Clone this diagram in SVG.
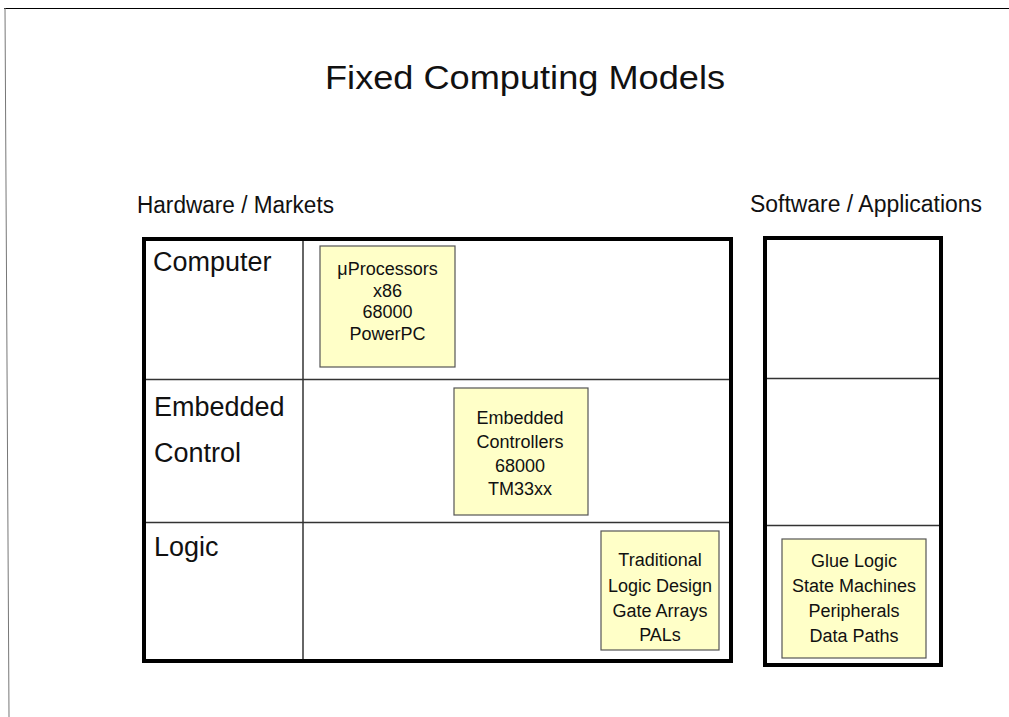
<svg xmlns="http://www.w3.org/2000/svg" width="1009" height="717" viewBox="0 0 1009 717">
<style>
text{font-family:"Liberation Sans",Arial,sans-serif;fill:#111}
.title{font-size:34px}
.head{font-size:23px}
.row{font-size:27px}
.box{fill:#FFFFC8;stroke:#555;stroke-width:1.2}
.bt{font-size:18px;text-anchor:middle}
.thick{fill:none;stroke:#000;stroke-width:4}
.thin{stroke:#333;stroke-width:1.5}
</style>
<rect width="1009" height="717" fill="#fff"/>
<g id="frame">
<line x1="4" y1="8.5" x2="1009" y2="8.5" stroke="#000" stroke-width="1.2"/>
<line x1="5" y1="8" x2="9" y2="717" stroke="#777" stroke-width="1"/>
</g>
<text id="title" class="title" x="525" y="89" text-anchor="middle" textLength="400" lengthAdjust="spacingAndGlyphs">Fixed Computing Models</text>
<text id="hw-label" class="head" x="137" y="213" textLength="197" lengthAdjust="spacingAndGlyphs">Hardware / Markets</text>
<text id="sw-label" class="head" x="750" y="212" textLength="232" lengthAdjust="spacingAndGlyphs">Software / Applications</text>
<g id="hw-table">
<rect class="thick" x="144" y="239" width="587" height="422"/>
<line class="thin" x1="303" y1="241" x2="303" y2="659"/>
<line class="thin" x1="146" y1="379.5" x2="729" y2="379.5"/>
<line class="thin" x1="146" y1="522.5" x2="729" y2="522.5"/>
<text class="row" x="153" y="271">Computer</text>
<text class="row" x="154" y="416">Embedded</text>
<text class="row" x="154" y="462">Control</text>
<text class="row" x="154" y="556">Logic</text>
</g>
<g id="sw-table">
<rect class="thick" x="765" y="238" width="176" height="427"/>
<line class="thin" x1="767" y1="378.5" x2="939" y2="378.5"/>
<line class="thin" x1="767" y1="525.5" x2="939" y2="525.5"/>
</g>
<g id="node-uprocessors">
<rect class="box" x="320" y="246" width="135" height="121"/>
<text class="bt" x="387.5" y="275">μProcessors</text>
<text class="bt" x="387.5" y="297">x86</text>
<text class="bt" x="387.5" y="318">68000</text>
<text class="bt" x="387.5" y="340">PowerPC</text>
</g>
<g id="node-embedded">
<rect class="box" x="454" y="388" width="134" height="127"/>
<text class="bt" x="520" y="424">Embedded</text>
<text class="bt" x="520" y="448">Controllers</text>
<text class="bt" x="520" y="472">68000</text>
<text class="bt" x="520" y="495">TM33xx</text>
</g>
<g id="node-traditional">
<rect class="box" x="601" y="531" width="118" height="119"/>
<text class="bt" x="660" y="566">Traditional</text>
<text class="bt" x="660" y="592">Logic Design</text>
<text class="bt" x="660" y="617">Gate Arrays</text>
<text class="bt" x="660" y="641">PALs</text>
</g>
<g id="node-glue">
<rect class="box" x="782" y="539" width="144" height="119"/>
<text class="bt" x="854" y="567">Glue Logic</text>
<text class="bt" x="854" y="592">State Machines</text>
<text class="bt" x="854" y="617">Peripherals</text>
<text class="bt" x="854" y="642">Data Paths</text>
</g>
</svg>
